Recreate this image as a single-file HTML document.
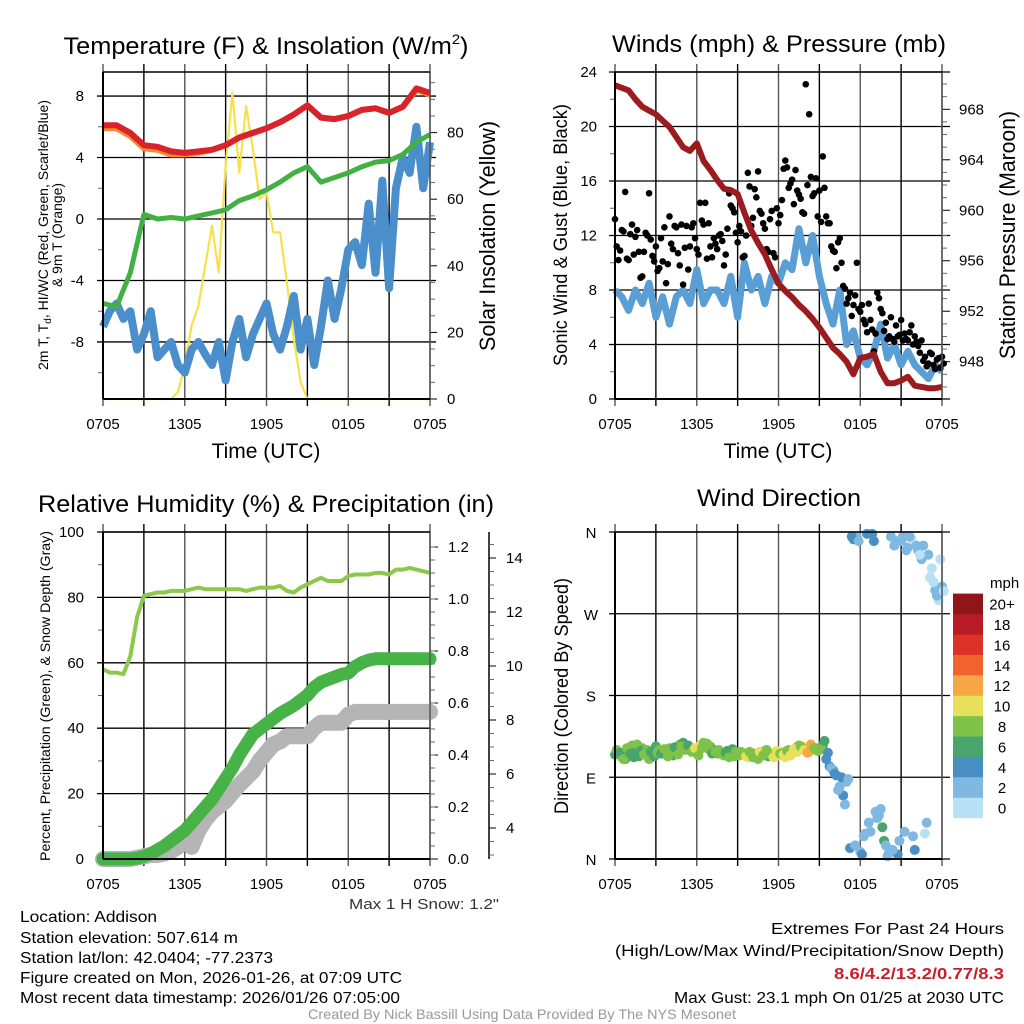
<!DOCTYPE html>
<html><head><meta charset="utf-8">
<style>
html,body{margin:0;padding:0;background:#fff;}
svg{display:block;font-family:"Liberation Sans",Arial,sans-serif;}
.n{font-family:"Liberation Sans Narrow","Liberation Sans",sans-serif;}
</style></head>
<body>
<svg id="fig" width="1024" height="1024" viewBox="0 0 1024 1024" xmlns="http://www.w3.org/2000/svg">
<rect x="0" y="0" width="1024" height="1024" fill="#fff"/>
<text class="n" x="266" y="54" font-size="24" text-anchor="middle" textLength="405" lengthAdjust="spacingAndGlyphs">Temperature (F) &amp; Insolation (W/m<tspan font-size="14" dy="-10">2</tspan><tspan dy="10">)</tspan></text>
<text class="n" x="779" y="52" font-size="24" text-anchor="middle" textLength="334" lengthAdjust="spacingAndGlyphs">Winds (mph) &amp; Pressure (mb)</text>
<text class="n" x="266" y="512" font-size="24" text-anchor="middle" textLength="456" lengthAdjust="spacingAndGlyphs">Relative Humidity (%) &amp; Precipitation (in)</text>
<text class="n" x="779" y="506" font-size="24" text-anchor="middle" textLength="164" lengthAdjust="spacingAndGlyphs">Wind Direction</text>

<text class="n" transform="translate(48,235) rotate(-90)" font-size="14" text-anchor="middle" textLength="270" lengthAdjust="spacingAndGlyphs">2m T, T<tspan font-size="10" dy="3">d</tspan><tspan dy="-3">, HI/WC (Red, Green, Scarlet/Blue)</tspan></text>
<text class="n" transform="translate(62,235) rotate(-90)" font-size="14" text-anchor="middle" textLength="104" lengthAdjust="spacingAndGlyphs">&amp; 9m T (Orange)</text>
<text class="n" transform="translate(495,236) rotate(-90)" font-size="22" text-anchor="middle" textLength="230" lengthAdjust="spacingAndGlyphs">Solar Insolation (Yellow)</text>
<text class="n" transform="translate(567,235) rotate(-90)" font-size="19" text-anchor="middle" textLength="262" lengthAdjust="spacingAndGlyphs">Sonic Wind &amp; Gust (Blue, Black)</text>
<text class="n" transform="translate(1015,235) rotate(-90)" font-size="22" text-anchor="middle" textLength="248" lengthAdjust="spacingAndGlyphs">Station Pressure (Maroon)</text>
<text class="n" transform="translate(50,696) rotate(-90)" font-size="14" text-anchor="middle" textLength="330" lengthAdjust="spacingAndGlyphs">Percent, Precipitation (Green), &amp; Snow Depth (Gray)</text>
<text class="n" transform="translate(568,696) rotate(-90)" font-size="19" text-anchor="middle" textLength="236" lengthAdjust="spacingAndGlyphs">Direction (Colored By Speed)</text>
<text class="n" x="266" y="458" font-size="21" text-anchor="middle">Time (UTC)</text>
<text class="n" x="778" y="458" font-size="21" text-anchor="middle">Time (UTC)</text>

<text class="n" x="424" y="909" font-size="15" fill="#333" text-anchor="middle" textLength="150" lengthAdjust="spacingAndGlyphs">Max 1 H Snow: 1.2"</text>
<g class="n" font-size="16" fill="#000">
<text x="20" y="922" textLength="137" lengthAdjust="spacingAndGlyphs">Location: Addison</text>
<text x="20" y="943" textLength="218" lengthAdjust="spacingAndGlyphs">Station elevation: 507.614 m</text>
<text x="20" y="963" textLength="253" lengthAdjust="spacingAndGlyphs">Station lat/lon: 42.0404; -77.2373</text>
<text x="20" y="983" textLength="382" lengthAdjust="spacingAndGlyphs">Figure created on Mon, 2026-01-26, at 07:09 UTC</text>
<text x="20" y="1003" textLength="380" lengthAdjust="spacingAndGlyphs">Most recent data timestamp: 2026/01/26 07:05:00</text>
</g>
<g class="n" font-size="16" text-anchor="end">
<text x="1004" y="934" textLength="233" lengthAdjust="spacingAndGlyphs">Extremes For Past 24 Hours</text>
<text x="1004" y="956" textLength="389" lengthAdjust="spacingAndGlyphs">(High/Low/Max Wind/Precipitation/Snow Depth)</text>
<text x="1004" y="979" font-weight="bold" fill="#c8202a" textLength="170" lengthAdjust="spacingAndGlyphs">8.6/4.2/13.2/0.77/8.3</text>
<text x="1004" y="1003" textLength="330" lengthAdjust="spacingAndGlyphs">Max Gust: 23.1 mph On 01/25 at 2030 UTC</text>
</g>
<text class="n" x="522" y="1019" font-size="14" fill="#999" text-anchor="middle" textLength="428" lengthAdjust="spacingAndGlyphs">Created By Nick Bassill Using Data Provided By The NYS Mesonet</text>
<g id="marks"></g>
</svg>
<script>
// ---------- data (half-hourly unless noted) ----------
const xTickLabels = ["0705","1305","1905","0105","0705"];
const tempRed = [6.1,6.1,5.6,4.8,4.7,4.4,4.3,4.4,4.5,4.8,5.3,5.6,5.9,6.3,6.8,7.4,6.6,6.5,6.7,7.1,7.2,6.9,7.3,8.5,8.2]; // hourly
const tempOrange = [5.9,5.9,5.4,4.6,4.5,4.2,4.2,4.3,4.5,4.8,5.3,5.6,5.9,6.3,6.8,7.4,6.6,6.5,6.7,7.1,7.2,6.9,7.3,8.4,8.1]; // hourly
const dewGreen = [-5.5,-5.7,-3.5,0.3,0,0.1,0,0.2,0.4,0.6,1.2,1.5,1.9,2.4,3.0,3.4,2.4,2.7,3.0,3.4,3.7,3.8,4.2,5.0,5.5]; // hourly
const windChill = [-7,-6,-5.5,-6.5,-6,-8.5,-7.5,-6,-9,-8.5,-8,-9.5,-10,-8.5,-8,-8.8,-9.5,-8,-10.5,-8,-6.5,-9,-7.5,-6.5,-5.5,-7.5,-8.5,-7,-5,-8.5,-6.5,-9.5,-7,-4,-6.5,-4.5,-2,-1.5,-3,1,-3.5,2.5,-4.5,2,4,3,6,2,5];
const insolation = [0,0,0,0,0,0,0,0,0,0,0,2,10,22,28,40,52,38,70,92,68,88,75,60,62,50,50,35,18,5,0,0,0,0,0,0,0,0,0,0,0,0,0,0,0,0,0,0,0];
const windSpeed = [8,7.5,6.5,8,7,8.5,6,7.5,5.5,7.5,8,7,9.5,7,8,8,7,9,6,10,8,9,7,9,8.5,10,9.5,12.5,10,12,9,7,5.5,8,4,5,3,2.5,3.5,5.5,3,4,2.5,3.5,2.5,2,1.5,2.5,2];
const windGust = [13.2,10.2,12.4,15.2,10.2,12.8,11.9,10.8,9.0,12.2,15.1,10.5,11.2,9.6,10.1,8.5,13.4,11.0,12.6,9.8,8.4,12.7,11.2,12.9,11.0,14.4,12.8,10.3,11.2,11.8,11.0,12.1,9.8,12.5,14.2,13.7,11.5,12.3,10.5,16.6,12.7,15.4,16.7,13.6,12.5,10.8,13.8,10.4,12.9,14.6,17.5,15.5,16.1,16.8,15.0,13.7,23.1,20.9,14.9,16.2,15.3,17.8,13.4,12.9,10.9,9.6,11.8,8.3,7.0,7.8,6.9,10.0,6.4,5.8,4.9,5.8,3.5,7.8,6.6,5.0,4.4,6.0,4.2,4.6,5.8,4.8,4.3,5.4,4.6,3.9,4.3,3.1,2.6,3.3,2.2,3.0,3.1]; // 15-min
const windGustB = [11.2,10.9,12.3,10.3,12.1,10.6,12.4,8.9,10.8,12.0,11.7,10.1,9.4,11.8,12.6,9.9,11.4,12.7,10.7,12.8,11.1,9.5,12.6,11.8,10.6,13.1,14.4,12.9,10.4,11.4,12.0,11.6,10.6,15.1,14.0,12.2,12.7,10.4,12.0,15.6,13.3,14.8,13.8,12.9,11.0,13.2,10.7,14.0,13.5,16.9,17.0,15.8,14.3,15.3,14.7,13.6,15.7,16.3,15.1,13.4,13.0,15.5,12.9,11.2,10.8,11.5,10.0,8.1,7.4,6.1,7.6,6.6,6.9,5.5,7.0,5.1,4.8,7.4,6.3,5.6,4.6,4.4,5.4,4.7,4.3,4.4,4.9,4.0,4.2,3.4,2.8,2.4,3.4,2.5,2.9,2.3,2.6]; // 15-min, offset 7.5 min
const pressure = [969.9,969.7,969.5,968.8,968.2,967.9,967.6,967.1,966.6,965.8,965.0,964.7,965.3,963.9,963.2,962.4,961.7,961.6,961.3,959.8,958.4,957.4,956.5,955.3,954.2,953.6,953.1,952.5,952.0,951.4,950.7,949.9,949.1,948.6,948.0,947.0,948.3,948.4,948.6,947.2,946.3,946.3,946.5,946.8,946.1,946.0,945.9,945.9,946.0];
const rhValues = [58,57,57,56.5,62,74,80.5,81,81.5,81.5,82,82,82,82.5,83,82.5,82.5,82.5,82.5,82.5,82.5,82,82.5,83,83,83,83.5,82,81.5,83,84,85,86,85,85,85,86.5,87,87,87,87.5,87.5,87,88.5,88.5,89,88.5,88,87.5];
const precip = [0,0,0,0,0,0.003,0.01,0.02,0.035,0.05,0.07,0.09,0.11,0.14,0.17,0.2,0.23,0.27,0.31,0.35,0.4,0.44,0.48,0.5,0.52,0.54,0.56,0.575,0.59,0.61,0.63,0.66,0.68,0.69,0.7,0.71,0.715,0.74,0.755,0.765,0.77,0.77,0.77,0.77,0.77,0.77,0.77,0.77,0.77];
const snowDepth = [2.85,2.85,2.85,2.85,2.85,2.9,2.95,3.0,3.0,3.05,3.15,3.3,3.6,3.3,3.9,4.3,4.6,4.8,5.0,5.3,5.6,5.85,6.1,6.5,6.8,7.1,7.2,7.4,7.4,7.4,7.4,7.7,7.9,7.9,7.9,7.9,8.2,8.3,8.3,8.3,8.3,8.3,8.3,8.3,8.3,8.3,8.3,8.3,8.3];
const windDir = [115,118,112,110,120,125,118,113,122,116,110,119,124,120,116,119,122,114,118,126,128,124,121,119,117,125,128,127,124,120,116,118,114,119,117,113,116,118,115,112,117,114,110,116,119,113,115,117,114,118,112,120,116,122,125,124,121,118,123,122,120,125,110,102,98,92,80,70,85,12,352,355,8,25,358,30,350,45,55,20,3,355,345,5,350,30,343,352,10,340,330,28,335,320,296,285,300]; // 15-min
const windDirSpeed = [7,10,8,7,6,8,7,6,8,7,8,7,6,8,7,9,8,7,8,8,7,6,8,9,10,10,9,8,8,7,8,9,8,7,6,8,7,8,9,10,9,8,8,6,8,7,8,10,10,11,10,9,10,9,8,11,12,12,10,8,9,7,5,4,4,4,3,4,3,4,4,3,2,3,4,2,5,3,3,6,2,2,3,4,2,2,2,1,4,2,2,1,2,1,2,0,3]; // 15-min
const windDirB = [120,117,110,122,116,112,126,119,115,120,118,113,117,116,121,113,119,123,115,124,120,125,118,122,114,122,126,121,116,118,120,115,117,112,121,118,114,116,113,118,112,116,118,114,120,116,112,119,116,115,119,114,121,118,124,120,117,126,122,119,121,130,117,100,94,76,90,60,88,355,15,350,5,28,40,358,52,48,35,15,8,10,350,20,355,340,355,25,345,335,345,40,310,305,290,330,295]; // 15-min, offset 7.5 min
const windDirSpeedB = [8,7,9,8,6,7,8,7,9,8,7,6,8,7,8,8,9,7,8,9,8,7,8,10,9,9,8,9,7,8,9,8,7,8,7,9,8,9,10,9,8,9,10,9,8,9,10,11,9,10,9,10,11,10,9,10,13,12,9,8,9,6,4,3,4,3,4,3,3,4,3,3,4,2,3,4,3,2,6,3,3,3,2,2,3,3,2,2,3,1,2,3,1,1,2,1,0];
const colorbarLabels = ["0","2","4","6","8","10","12","14","16","18","20+"];
const colorbarColors = ["#b7e2f5","#7fb8e0","#4a8fc4","#4aa56c","#7fc24a","#e6e05a","#f6a644","#f0632d","#dc3228","#b81c24","#8f1518"];
const tempTicks = [-8,-4,0,4,8];
const insTicks = [0,20,40,60,80];
const windTicks = [0,4,8,12,16,20,24];
const presTicks = [948,952,956,960,964,968];
const rhTicks = [0,20,40,60,80,100];
const precipTicks = [0,0.2,0.4,0.6,0.8,1.0,1.2];
const snowTicks = [4,6,8,10,12,14];
const dirTicks = ["N","E","S","W","N"];

// ---------- helpers ----------
const NS = "http://www.w3.org/2000/svg";
const root = document.getElementById("marks");
function el(tag, attrs, name, parent) {
  const e = document.createElementNS(NS, tag);
  for (const k in attrs) e.setAttribute(k, attrs[k]);
  
  
  (parent || root).appendChild(e);
  return e;
}
function txt(x, y, s, name, opts) {
  const t = el("text", Object.assign({x: x, y: y, "font-size": 14, class: "n"}, opts || {}), name);
  t.textContent = s;
  return t;
}
function xOf(x0, x1, h) { return x0 + (x1 - x0) * h / 24; }
function path(pts) { return pts.map((p, i) => (i ? "L" : "M") + p[0].toFixed(1) + " " + p[1].toFixed(1)).join(" "); }
function series(vals, step, x0, x1, yf) { return vals.map((v, i) => [xOf(x0, x1, i * step), yf(v)]); }

function frame(x0, x1, yT, yB, id) {
  for (let k = 0; k <= 8; k++) {
    const x = xOf(x0, x1, k * 3);
    el("line", {x1: x, y1: yT - 8, x2: x, y2: yB + 7, stroke: k % 2 ? "#000" : "#555", "stroke-width": 1.4}, id + "-v-grid");
  }
  if (id !== "dir") {
    xTickLabels.forEach((s, i) => {
      txt(xOf(x0, x1, i * 6), yB + 30, s, id + "-x-tick-label", {"text-anchor": "middle", "font-size": 15});
    });
  }
}
function hgrid(x0, x1, y, id, ext) {
  el("line", {x1: x0 - 6, y1: y, x2: x1 + (ext || 0), y2: y, stroke: "#000", "stroke-width": 1.3}, id + "-h-grid");
}
function minorTicks(x, ys, dir, id) {
  ys.forEach(y => el("line", {x1: x, y1: y, x2: x + dir * 5, y2: y, stroke: "#666", "stroke-width": 1}, id + "-minor-tick"));
}
function border(x0, x1, yT, yB, id) {
  el("line", {x1: x0, y1: yT, x2: x0, y2: yB, stroke: "#000", "stroke-width": 2}, id + "-left-border");
  el("line", {x1: x1, y1: yT, x2: x1, y2: yB, stroke: "#555", "stroke-width": 1.5}, id + "-right-border");
  el("line", {x1: x0, y1: yB, x2: x1, y2: yB, stroke: "#000", "stroke-width": 2}, id + "-bottom-border");
  el("line", {x1: x0, y1: yT, x2: x1, y2: yT, stroke: "#000", "stroke-width": 1.5}, id + "-top-border");
}

// ---------- Panel 1: temperature ----------
(function () {
  const x0 = 103, x1 = 430, yT = 72, yB = 399;
  const yT_ = v => 219 - v * 15.37, yI = v => 399 - v * 3.33;
  frame(x0, x1, yT, yB, "temp");
  tempTicks.forEach(v => { hgrid(x0, x1, yT_(v), "temp", 6); txt(84, yT_(v) + 5, String(v), "temp-y-tick-label", {"text-anchor": "end", "font-size": 15}); });
  const mt = []; for (let v = -10; v <= 9; v += 2) if (v % 4) mt.push(yT_(v)); minorTicks(x0, mt, -1, "temp");
  insTicks.forEach(v => { el("line", {x1: x1, y1: yI(v), x2: x1 + 7, y2: yI(v), stroke: "#000"}, "ins-tick"); txt(447, yI(v) + 5, String(v), "ins-tick-label", {"font-size": 15}); });
  const mi = []; for (let v = 5; v <= 95; v += 5) if (v % 20) mi.push(yI(v)); minorTicks(x1, mi, 1, "ins");
  el("path", {d: path(series(insolation, 0.5, x0, x1, yI)), fill: "none", stroke: "#f7e14a", "stroke-width": 2.2, "stroke-linejoin": "round"}, "insolation-line");
  el("path", {d: path(series(windChill, 0.5, x0, x1, yT_)), fill: "none", stroke: "#4a8fcb", "stroke-width": 8, "stroke-linejoin": "round"}, "wind-chill-line");
  el("path", {d: path(series(dewGreen, 1, x0, x1, yT_)), fill: "none", stroke: "#43b043", "stroke-width": 5, "stroke-linejoin": "round"}, "dewpoint-line");
  el("path", {d: path(series(tempOrange, 1, x0, x1, yT_)), fill: "none", stroke: "#f28a2e", "stroke-width": 6, "stroke-linejoin": "round"}, "temp-9m-line");
  el("path", {d: path(series(tempRed, 1, x0, x1, yT_)), fill: "none", stroke: "#d9232a", "stroke-width": 6, "stroke-linejoin": "round"}, "temp-2m-line");
  border(x0, x1, yT, yB, "temp");
})();

// ---------- Panel 2: winds ----------
(function () {
  const x0 = 615, x1 = 942, yT = 72, yB = 399;
  const yW = v => 399 - v * 13.625, yP = p => 361.7 - (p - 948) * 12.62;
  frame(x0, x1, yT, yB, "wind");
  windTicks.forEach(v => { hgrid(x0, x1, yW(v), "wind", 8); txt(597, yW(v) + 5, String(v), "wind-y-tick-label", {"text-anchor": "end", "font-size": 15}); });
  const mw = []; for (let v = 2; v <= 22; v += 4) mw.push(yW(v)); minorTicks(x0, mw, -1, "wind");
  presTicks.forEach(v => { el("line", {x1: x1, y1: yP(v), x2: x1 + 8, y2: yP(v), stroke: "#000"}, "pres-tick"); txt(959, yP(v) + 5, String(v), "pres-tick-label", {"font-size": 15}); });
  const mp = []; for (let v = 946; v <= 970; v++) if (v % 4) mp.push(yP(v)); minorTicks(x1, mp, 1, "pres");
  el("path", {d: path(series(windSpeed, 0.5, x0, x1, yW)), fill: "none", stroke: "#5a9ed6", "stroke-width": 7, "stroke-linejoin": "round"}, "wind-speed-line");
  windGust.forEach((v, i) => {
    el("circle", {cx: xOf(x0, x1, i * 0.25), cy: yW(v), r: 3.3, fill: "#000"}, "gust-point");
  });
  windGustB.forEach((v, i) => {
    el("circle", {cx: xOf(x0, x1, i * 0.25 + 0.125), cy: yW(v), r: 3.3, fill: "#000"}, "gust-point");
  });
  el("path", {d: path(series(pressure, 0.5, x0, x1, yP)), fill: "none", stroke: "#9b1c1f", "stroke-width": 6, "stroke-linejoin": "round"}, "pressure-line");
  border(x0, x1, yT, yB, "wind");
})();

// ---------- Panel 3: humidity / precip ----------
(function () {
  const x0 = 103, x1 = 430, yT = 532, yB = 859;
  const yR = v => 859 - v * 3.27, yPr = v => 859 - v * 260, yS = v => 936 - v * 27;
  frame(x0, x1, yT, yB, "rh");
  rhTicks.forEach(v => { hgrid(x0, x1, yR(v), "rh", 0); txt(84, yR(v) + 5, String(v), "rh-y-tick-label", {"text-anchor": "end", "font-size": 15}); });
  const mr = []; for (let v = 10; v <= 90; v += 20) mr.push(yR(v)); minorTicks(x0, mr, -1, "rh");
  precipTicks.forEach(v => { el("line", {x1: x1, y1: yPr(v), x2: x1 + 8, y2: yPr(v), stroke: "#000"}, "precip-tick"); txt(448, yPr(v) + 5, v.toFixed(1), "precip-tick-label", {"font-size": 15}); });
  const mpr = []; for (let v = 0.05; v < 1.25; v += 0.05) mpr.push(yPr(v)); minorTicks(x1, mpr, 1, "precip");
  el("line", {x1: 489, y1: 532, x2: 489, y2: 859, stroke: "#000", "stroke-width": 1.5}, "snow-axis-line");
  snowTicks.forEach(v => { el("line", {x1: 489, y1: yS(v), x2: 496, y2: yS(v), stroke: "#000"}, "snow-tick"); txt(506, yS(v) + 5, String(v), "snow-tick-label", {"font-size": 15}); });
  const ms = []; for (let v = 3; v <= 14.5; v += 0.5) if (v % 2) ms.push(yS(v)); minorTicks(489, ms, 1, "snow");
  el("path", {d: path(series(snowDepth, 0.5, x0, x1, yS)), fill: "none", stroke: "#b5b5b5", "stroke-width": 16, "stroke-linejoin": "round", "stroke-linecap": "round"}, "snow-depth-line");
  el("path", {d: path(series(precip, 0.5, x0, x1, yPr)), fill: "none", stroke: "#47b347", "stroke-width": 13, "stroke-linejoin": "round", "stroke-linecap": "round"}, "precip-line");
  el("path", {d: path(series(rhValues, 0.5, x0, x1, yR)), fill: "none", stroke: "#8cc84b", "stroke-width": 4, "stroke-linejoin": "round"}, "rh-line");
  border(x0, x1, yT, yB, "rh");
})();

// ---------- Panel 4: wind direction ----------
(function () {
  const x0 = 615, x1 = 942, yT = 532, yB = 859;
  const yD = d => 859 - d * 327 / 360;
  frame(x0, x1, yT, yB, "dir");
  xTickLabels.forEach((s, i) => txt(xOf(x0, x1, i * 6), yB + 30, s, "dir-x-tick-label", {"text-anchor": "middle", "font-size": 15}));
  dirTicks.forEach((s, i) => { hgrid(x0, x1, yD(i * 90), "dir", 8); txt(591, yD(i * 90) + 6, s, "dir-y-tick-label", {"text-anchor": "middle", "font-size": 15}); });
  windDir.forEach((d, i) => {
    const bin = Math.min(10, Math.floor(windDirSpeed[i] / 2));
    el("circle", {cx: xOf(x0, x1, i * 0.25), cy: yD(d), r: 5, fill: colorbarColors[bin]}, "direction-point");
  });
  windDirB.forEach((d, i) => {
    const bin = Math.min(10, Math.floor(windDirSpeedB[i] / 2));
    el("circle", {cx: xOf(x0, x1, i * 0.25 + 0.125), cy: yD(d), r: 5, fill: colorbarColors[bin]}, "direction-point");
  });
  border(x0, x1, yT, yB, "dir");
  // colorbar
  txt(990, 588, "mph", "colorbar-title", {"font-size": 15});
  colorbarColors.forEach((c, i) => {
    const y = 818 - (i + 1) * 20.4;
    el("rect", {x: 953, y: y, width: 30, height: 20.6, fill: c}, "colorbar-box");
    txt(1002, y + 16, colorbarLabels[i], "colorbar-label", {"text-anchor": "middle", "font-size": 15});
  });
})();
</script>
</body></html>
